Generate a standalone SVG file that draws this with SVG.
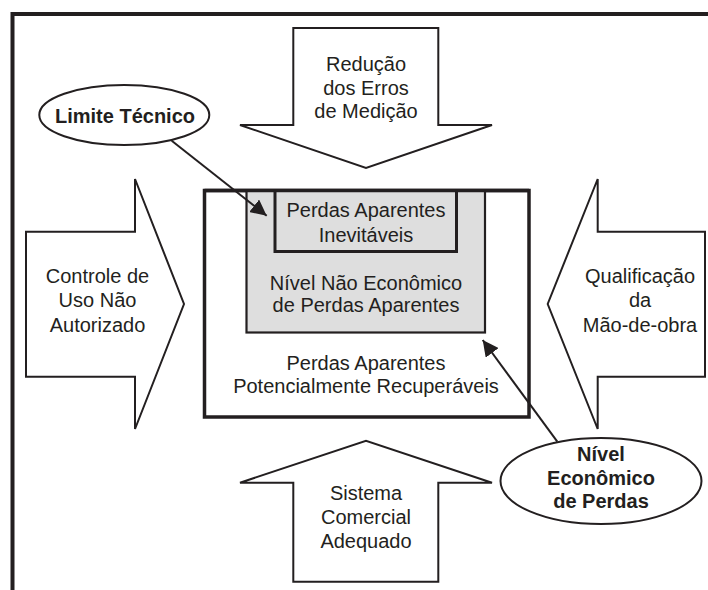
<svg xmlns="http://www.w3.org/2000/svg" width="708" height="590" viewBox="0 0 708 590">
<defs>
<style>
.t{font-family:"Liberation Sans","Open Sans",Arial,sans-serif;font-size:20px;fill:#231f20;text-anchor:middle}
.b{font-weight:bold}
.ar{fill:#fff;stroke:#231f20;stroke-width:2;stroke-linejoin:miter}
.el{fill:#fff;stroke:#231f20;stroke-width:2}
.cn{fill:none;stroke:#231f20;stroke-width:2}
</style>
<marker id="ah" viewBox="0 0 10 10" refX="10" refY="5" markerWidth="8" markerHeight="8" markerUnits="strokeWidth" orient="auto">
<path d="M0,0 L10,5 L0,10 z" fill="#231f20"/>
</marker>
</defs>
<rect width="708" height="590" fill="#fff"/>
<path d="M12.5,590 V14 H708" fill="none" stroke="#231f20" stroke-width="4"/>

<g id="arrow-top">
<path class="ar" d="M293.3,28 H438.3 V125 H492 L366,168 L240,125 H293.3 Z"/>
<text class="t" x="366" y="70.7">Redução</text>
<text class="t" x="366" y="95">dos Erros</text>
<text class="t" x="366" y="118.3">de Medição</text>
</g>

<g id="arrow-left">
<path class="ar" d="M26,231.7 H135 V179 L184,304 L135,429 V376.7 H26 Z"/>
<text class="t" x="97.5" y="283.3">Controle de</text>
<text class="t" x="97.5" y="307.3">Uso Não</text>
<text class="t" x="97.5" y="331.7">Autorizado</text>
</g>

<g id="arrow-right">
<path class="ar" d="M705,231.7 H597.7 V179 L547.7,304 L597.7,429 V376.7 H705 Z"/>
<text class="t" x="640" y="283.3">Qualificação</text>
<text class="t" x="640" y="307.3">da</text>
<text class="t" x="640" y="331.7">Mão-de-obra</text>
</g>

<g id="arrow-bottom">
<path class="ar" d="M293.3,581.7 H438.3 V482.7 H492 L366,440.7 L240,482.7 H293.3 Z"/>
<text class="t" x="366" y="500">Sistema</text>
<text class="t" x="366" y="524">Comercial</text>
<text class="t" x="366" y="548.3">Adequado</text>
</g>

<g id="box-recuperaveis">
<rect x="204.5" y="190.5" width="324.5" height="226.5" fill="#fff" stroke="#231f20" stroke-width="3.5"/>
<text class="t" x="366" y="370">Perdas Aparentes</text>
<text class="t" x="366" y="393.3">Potencialmente Recuperáveis</text>
</g>

<g id="box-nao-economico">
<rect x="246.5" y="190.5" width="238.5" height="142" fill="#dedede" stroke="#231f20" stroke-width="2.2"/>
<text class="t" x="366" y="289.5">Nível Não Econômico</text>
<text class="t" x="366" y="312.2">de Perdas Aparentes</text>
</g>

<g id="box-inevitaveis">
<rect x="275" y="190.5" width="181.5" height="61" fill="#dedede" stroke="#231f20" stroke-width="3"/>
<text class="t" x="366" y="216.7">Perdas Aparentes</text>
<text class="t" x="366" y="241.7">Inevitáveis</text>
</g>
<path d="M204.5,190.5 H529" fill="none" stroke="#231f20" stroke-width="3.5"/>

<g id="connectors">
<path class="cn" d="M171.7,140.7 L266.7,215.7" marker-end="url(#ah)"/>
<path class="cn" d="M557.3,441.7 L482.7,340" marker-end="url(#ah)"/>
</g>

<g id="limite-tecnico">
<ellipse class="el" cx="124.3" cy="115" rx="85" ry="30"/>
<text class="t b" x="125" y="122.7">Limite Técnico</text>
</g>

<g id="nivel-economico">
<ellipse class="el" cx="601" cy="481" rx="100.5" ry="43"/>
<text class="t b" x="601" y="460.7">Nível</text>
<text class="t b" x="601" y="485">Econômico</text>
<text class="t b" x="601" y="508.3">de Perdas</text>
</g>
</svg>
